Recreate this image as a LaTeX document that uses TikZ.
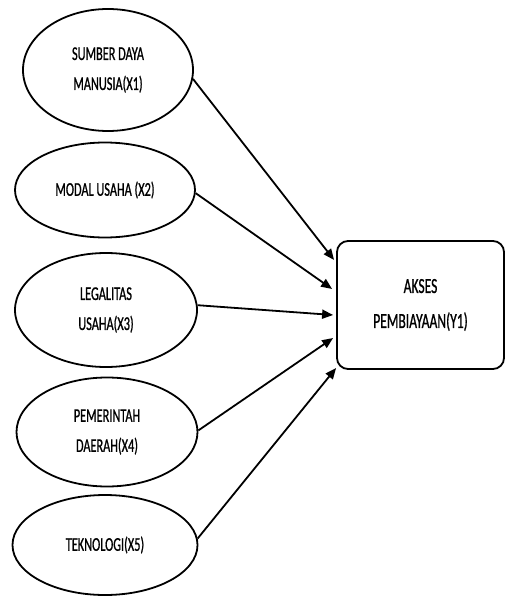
\documentclass[tikz,border=0pt]{standalone}
\usepackage{fontspec}
\setmainfont{Carlito}[FakeStretch=0.63,FakeBold=0.8]
\usetikzlibrary{shapes.geometric,arrows.meta}
\tikzset{
  var/.style={ellipse, draw, line width=1.8pt, inner sep=0pt, align=center,
    font=\fontsize{19.5}{30}\selectfont},
  target/.style={rectangle, draw, line width=1.8pt, rounded corners=11pt, align=center,
    minimum width=167pt, minimum height=128pt, font=\fontsize{21.5}{35}\selectfont},
  path/.style={line width=1.8pt, -{Triangle[length=11pt,width=9pt]}}
}
\begin{document}
\begin{tikzpicture}[x=1pt,y=-1pt]
    \useasboundingbox (0,0) rectangle (505,596);
    % variabel bebas
    \node [var, minimum width=170pt, minimum height=122pt] (sdm) at (108,70) {SUMBER DAYA\\MANUSIA(X1)};
    \node [var, minimum width=180pt, minimum height=95pt] (modal) at (105,190) {MODAL USAHA (X2)};
    \node [var, minimum width=182pt, minimum height=114pt] (legal) at (106,310) {LEGALITAS\\USAHA(X3)};
    \node [var, minimum width=181pt, minimum height=109pt] (pemda) at (107,432) {PEMERINTAH\\DAERAH(X4)};
    \node [var, minimum width=185pt, minimum height=100pt] (tek) at (105,545) {TEKNOLOGI(X5)};
    % variabel terikat
    \node [target] (akses) at (420.5,305) {AKSES\\PEMBIAYAAN(Y1)};
    \draw [path] (sdm.-6) -- ([xshift=-2pt,yshift=45pt]akses.west);
    \draw [path] (modal.-2) -- ([xshift=-4pt,yshift=16pt]akses.west);
    \draw [path] (legal.3) -- ([xshift=-3pt,yshift=-10pt]akses.west);
    \draw [path] (pemda.1) -- ([xshift=-3pt,yshift=-33pt]akses.west);
    \draw [path] (tek.4) -- ([yshift=-63pt]akses.west);
  \end{tikzpicture}
\end{document}
